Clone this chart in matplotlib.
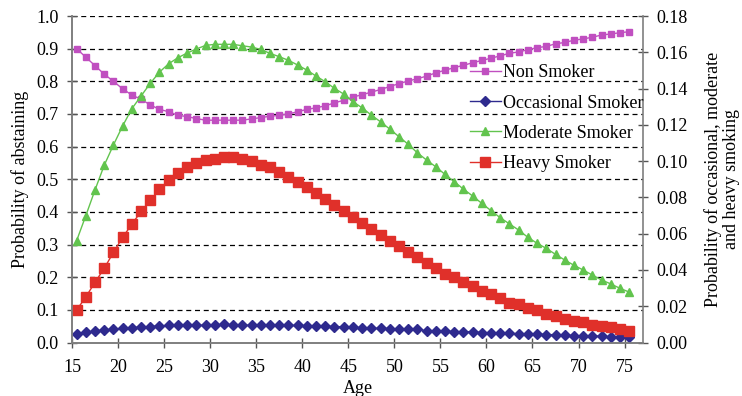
import numpy as np
import matplotlib
matplotlib.use("Agg")
import matplotlib.pyplot as plt

plt.rcParams['font.family'] = ['Liberation Serif', 'DejaVu Serif']

# ages 15..75, one point per year
ages = np.arange(15, 76)

# probability of abstaining (left axis)
non_smoker = [
    0.900, 0.874, 0.848, 0.822, 0.800, 0.777, 0.758, 0.745, 0.728, 0.714,
    0.707, 0.696, 0.692, 0.686, 0.681, 0.681, 0.681, 0.681, 0.681, 0.685,
    0.689, 0.693, 0.696, 0.700, 0.707, 0.714, 0.719, 0.725, 0.734, 0.742,
    0.752, 0.759, 0.767, 0.775, 0.784, 0.793, 0.801, 0.808, 0.816, 0.826,
    0.834, 0.842, 0.849, 0.857, 0.864, 0.871, 0.878, 0.886, 0.890, 0.897,
    0.903, 0.907, 0.915, 0.919, 0.926, 0.930, 0.935, 0.942, 0.945, 0.949,
    0.952,
]

# right axis series
occasional = [
    0.0047, 0.0056, 0.0063, 0.0069, 0.0073, 0.0078, 0.0082, 0.0085, 0.0088, 0.0092,
    0.0094, 0.0095, 0.0095, 0.0095, 0.0095, 0.0095, 0.0100, 0.0095, 0.0095, 0.0095,
    0.0095, 0.0095, 0.0094, 0.0094, 0.0094, 0.0093, 0.0093, 0.0090, 0.0088, 0.0087,
    0.0086, 0.0080, 0.0078, 0.0078, 0.0077, 0.0073, 0.0073, 0.0072, 0.0066, 0.0065,
    0.0064, 0.0060, 0.0060, 0.0059, 0.0055, 0.0054, 0.0053, 0.0050, 0.0049, 0.0048,
    0.0047, 0.0044, 0.0043, 0.0042, 0.0038, 0.0037, 0.0036, 0.0035, 0.0031, 0.0030,
    0.0029,
]

moderate = [
    0.0561, 0.0699, 0.0841, 0.0977, 0.1089, 0.1194, 0.1289, 0.1359, 0.1429, 0.1491,
    0.1537, 0.1570, 0.1596, 0.1618, 0.1638, 0.1644, 0.1644, 0.1644, 0.1636, 0.1629,
    0.1616, 0.1594, 0.1576, 0.1556, 0.1530, 0.1502, 0.1469, 0.1438, 0.1401, 0.1370,
    0.1328, 0.1294, 0.1254, 0.1217, 0.1177, 0.1135, 0.1093, 0.1046, 0.1006, 0.0969,
    0.0927, 0.0887, 0.0846, 0.0808, 0.0767, 0.0727, 0.0688, 0.0654, 0.0620, 0.0580,
    0.0547, 0.0519, 0.0486, 0.0455, 0.0426, 0.0400, 0.0372, 0.0345, 0.0323, 0.0299,
    0.0278,
]

heavy = [
    0.0179, 0.0251, 0.0332, 0.0409, 0.0497, 0.0580, 0.0652, 0.0723, 0.0784, 0.0845,
    0.0894, 0.0934, 0.0968, 0.0988, 0.1004, 0.1010, 0.1023, 0.1023, 0.1012, 0.0999,
    0.0977, 0.0968, 0.0938, 0.0912, 0.0885, 0.0856, 0.0823, 0.0789, 0.0756, 0.0723,
    0.0690, 0.0657, 0.0624, 0.0591, 0.0561, 0.0530, 0.0497, 0.0470, 0.0437, 0.0409,
    0.0379, 0.0359, 0.0332, 0.0310, 0.0282, 0.0266, 0.0244, 0.0220, 0.0212, 0.0190,
    0.0178, 0.0157, 0.0146, 0.0128, 0.0120, 0.0111, 0.0098, 0.0091, 0.0084, 0.0076,
    0.0063,
]

fs = 13

fig = plt.figure(figsize=(7.42, 3.96), dpi=100)
ax = fig.add_axes([0.097, 0.135, 0.7696, 0.8245])
ax2 = ax.twinx()

x = ages + 0.5  # points sit in the middle of each year

l1, = ax.plot(x, non_smoker, color='#C04FC0', marker='s', markersize=4.5, lw=1.0,
              label='Non Smoker')
l2, = ax2.plot(x, occasional, color='#2E2A8E', marker='D', markersize=5, lw=1.0,
               label='Occasional Smoker')
l3, = ax2.plot(x, moderate, color='#62C44E', marker='^', markersize=6, lw=1.0,
               label='Moderate Smoker')
l4, = ax2.plot(x, heavy, color='#E0302A', marker='s', markersize=6.5, lw=1.0,
               label='Heavy Smoker')

ax.set_xlim(15, 77)
ax.set_ylim(0, 1.0)
ax2.set_ylim(0, 0.18)
ax.set_xticks(np.arange(15, 80, 5))
ax.set_yticks(np.arange(0, 1.01, 0.1))
ax.set_yticklabels([f"{v:.1f}" for v in np.arange(0, 1.01, 0.1)])
ax2.set_yticks(np.arange(0, 0.181, 0.02))
ax2.set_yticklabels([f"{v:.2f}" for v in np.arange(0, 0.181, 0.02)])

for a in (ax, ax2):
    a.spines['top'].set_visible(False)
    for s in a.spines.values():
        s.set_color('#7f7f7f')
        s.set_linewidth(1.2)
    a.tick_params(direction='inout', length=7, width=1, color='#555555',
                  labelsize=fs, pad=6)
ax.spines['right'].set_visible(False)
ax.tick_params(axis='x', pad=8)

# dashed grid at left axis ticks
for v in np.arange(0.1, 1.01, 0.1):
    ax.axhline(v, color='black', lw=0.9, ls=(0, (4, 3)), zorder=0)

ax.set_xlabel('Age', fontsize=fs, labelpad=3)
ax.set_ylabel('Probability of abstaining', fontsize=fs, labelpad=5)
ax2.set_ylabel('Probability of occasional, moderate\nand heavy smoking',
               fontsize=fs, labelpad=12, linespacing=1.1)

ax2.legend(handles=[l1, l2, l3, l4], loc='upper left', bbox_to_anchor=(0.697, 0.852),
           frameon=False, fontsize=fs, handlelength=1.7, handletextpad=0.15,
           labelspacing=0.73, borderpad=0, borderaxespad=0)

fig.savefig('out.png', dpi=100)
plt.close(fig)
